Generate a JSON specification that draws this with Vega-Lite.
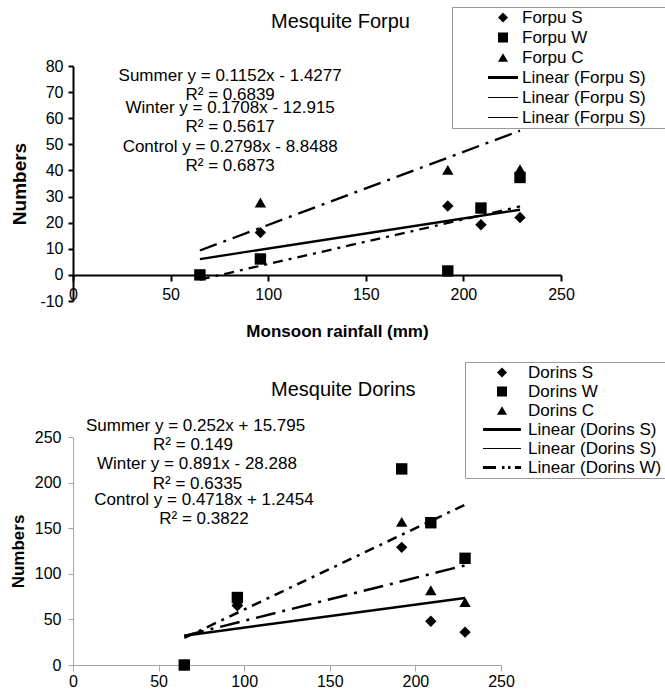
{
  "$schema": "https://vega.github.io/schema/vega-lite/v6.json",
  "padding": {"left": 9, "top": 6, "right": 0, "bottom": 0},
  "spacing": 136,
  "bounds": "flush",
  "config": {
    "font": "Liberation Sans",
    "view": {"stroke": null},
    "axis": {"grid": false, "labelFlush": false, "labelOverlap": false, "labelFont": "Liberation Sans", "titleFont": "Liberation Sans", "labelColor": "black", "titleColor": "black", "labelFontSize": 16, "titleFontWeight": "bold"},
    "legend": {"labelFont": "Liberation Sans", "labelColor": "black", "labelFontSize": 17, "labelLimit": 0, "symbolSize": 100, "symbolStrokeWidth": 1, "symbolStrokeColor": "black", "symbolFillColor": "black", "padding": 2, "strokeColor": "#999999", "fillColor": "white"},
    "title": {"font": "Liberation Sans", "fontSize": 20, "fontWeight": "normal", "color": "black"}
  },
  "datasets": {
    "forpu_pts": [
      {"series": "Forpu S", "rain": 65, "count": 0},
      {"series": "Forpu S", "rain": 96, "count": 16.2},
      {"series": "Forpu S", "rain": 192, "count": 26.4},
      {"series": "Forpu S", "rain": 209, "count": 19.2},
      {"series": "Forpu S", "rain": 229, "count": 22},
      {"series": "Forpu W", "rain": 65, "count": 0},
      {"series": "Forpu W", "rain": 96, "count": 6.1},
      {"series": "Forpu W", "rain": 192, "count": 1.5},
      {"series": "Forpu W", "rain": 209, "count": 25.6},
      {"series": "Forpu W", "rain": 229, "count": 37.3},
      {"series": "Forpu C", "rain": 65, "count": 0},
      {"series": "Forpu C", "rain": 96, "count": 27.7},
      {"series": "Forpu C", "rain": 192, "count": 40.2},
      {"series": "Forpu C", "rain": 209, "count": 68.6},
      {"series": "Forpu C", "rain": 229, "count": 40.5}
    ],
    "forpu_lines": [
      {"trend": "Summer", "rain": 65, "count": 6.06},
      {"trend": "Summer", "rain": 229, "count": 24.95},
      {"trend": "Winter", "rain": 65, "count": -1.81},
      {"trend": "Winter", "rain": 229, "count": 26.2},
      {"trend": "Control", "rain": 65, "count": 9.34},
      {"trend": "Control", "rain": 229, "count": 55.23}
    ],
    "forpu_eq": [
      {"label": "Summer y = 0.1152x - 1.4277", "rain": 80.5, "count": 76.2},
      {"label": "R² = 0.6839", "rain": 80.5, "count": 69.0},
      {"label": "Winter y = 0.1708x - 12.915", "rain": 80.5, "count": 64.0},
      {"label": "R² = 0.5617", "rain": 80.5, "count": 56.7},
      {"label": "Control y = 0.2798x - 8.8488", "rain": 80.5, "count": 49.0},
      {"label": "R² = 0.6873", "rain": 80.5, "count": 41.8}
    ],
    "dorins_pts": [
      {"series": "Dorins S", "rain": 65, "count": 0},
      {"series": "Dorins S", "rain": 96, "count": 65},
      {"series": "Dorins S", "rain": 192, "count": 129},
      {"series": "Dorins S", "rain": 209, "count": 48},
      {"series": "Dorins S", "rain": 229, "count": 36},
      {"series": "Dorins C", "rain": 65, "count": 0},
      {"series": "Dorins C", "rain": 96, "count": 70},
      {"series": "Dorins C", "rain": 192, "count": 157},
      {"series": "Dorins C", "rain": 209, "count": 82},
      {"series": "Dorins C", "rain": 229, "count": 69},
      {"series": "Dorins W", "rain": 65, "count": 0},
      {"series": "Dorins W", "rain": 96, "count": 74},
      {"series": "Dorins W", "rain": 192, "count": 215},
      {"series": "Dorins W", "rain": 209, "count": 156},
      {"series": "Dorins W", "rain": 229, "count": 117}
    ],
    "dorins_lines": [
      {"trend": "Summer", "rain": 65, "count": 32.18},
      {"trend": "Summer", "rain": 229, "count": 73.5},
      {"trend": "Winter", "rain": 65, "count": 29.63},
      {"trend": "Winter", "rain": 229, "count": 175.75},
      {"trend": "Control", "rain": 65, "count": 31.91},
      {"trend": "Control", "rain": 229, "count": 109.29}
    ],
    "dorins_eq": [
      {"label": "Summer y = 0.252x + 15.795", "rain": 71.6, "count": 262},
      {"label": "R² = 0.149", "rain": 70.1, "count": 241},
      {"label": "Winter y = 0.891x - 28.288", "rain": 72.4, "count": 220},
      {"label": "R² = 0.6335", "rain": 72.7, "count": 199},
      {"label": "Control y = 0.4718x + 1.2454", "rain": 76.5, "count": 181},
      {"label": "R² = 0.3822", "rain": 76.5, "count": 160}
    ]
  },
  "resolve": {"scale": {"shape": "independent"}},
  "vconcat": [
    {
      "width": 488,
      "height": 235,
      "title": {"text": "Mesquite Forpu", "anchor": "start", "frame": "group", "dx": 198, "offset": -25},
      "encoding": {
        "x": {"field": "rain", "type": "quantitative", "scale": {"domain": [0, 250], "nice": false, "zero": false},
          "axis": {"values": [0, 50, 100, 150, 200, 250], "offset": -26, "domainColor": "black", "domainWidth": 2, "tickColor": "black", "tickWidth": 2, "tickSize": 6, "labelPadding": 5, "labelExpr": "'' + datum.value", "title": "Monsoon rainfall (mm)", "titleFontSize": 17, "titlePadding": 21, "titleX": 264}},
        "y": {"field": "count", "type": "quantitative", "scale": {"domain": [-10, 80], "nice": false, "zero": false},
          "axis": {"values": [-10, 0, 10, 20, 30, 40, 50, 60, 70, 80], "domainColor": "black", "domainWidth": 2, "tickColor": "black", "tickWidth": 2, "tickSize": 5, "labelPadding": 5, "labelExpr": "'' + datum.value", "title": "Numbers", "titleFontSize": 19, "titlePadding": 10}}
      },
      "layer": [
        {
          "data": {"name": "forpu_lines"},
          "transform": [{"filter": "datum.trend == 'Summer'"}],
          "mark": {"type": "line", "color": "black", "strokeWidth": 2.3}
        },
        {
          "data": {"name": "forpu_lines"},
          "transform": [{"filter": "datum.trend == 'Winter'"}],
          "mark": {"type": "line", "color": "black", "strokeWidth": 2.3, "strokeDash": [10, 6, 3, 6]}
        },
        {
          "data": {"name": "forpu_lines"},
          "transform": [{"filter": "datum.trend == 'Control'"}],
          "mark": {"type": "line", "color": "black", "strokeWidth": 2.3, "strokeDash": [18, 7, 3, 7]}
        },
        {
          "data": {"name": "forpu_eq"},
          "mark": {"type": "text", "fontSize": 17, "align": "center", "baseline": "middle", "color": "black", "font": "Liberation Sans"},
          "encoding": {"text": {"field": "label", "type": "nominal"}}
        },
        {
          "data": {"name": "forpu_pts"},
          "mark": {"type": "point", "filled": true, "color": "black", "size": 130, "opacity": 1},
          "encoding": {
            "shape": {"field": "series", "type": "nominal",
              "scale": {"domain": ["Forpu S", "Forpu W", "Forpu C", "L1", "L2", "L3"], "range": ["diamond", "square", "triangle-up", "M-3,-0.3H3V0.3H-3Z", "M-3,-0.1H3V0.1H-3Z", "M-3,-0.1H3V0.1H-3Z"]},
              "legend": {"orient": "none", "legendX": 379, "legendY": -59, "rowPadding": 2, "symbolOffset": 40.5, "labelOffset": 10.5,
                "title": "\u00a0", "titleOrient": "right", "titlePadding": 24, "titleFontSize": 17,
                "labelExpr": "indexof(['L1','L2','L3'], datum.label) >= 0 ? 'Linear (Forpu S)' : datum.label",
                "encode": {"symbols": {"stroke": {"value": "black"}, "strokeWidth": {"value": 1}, "fill": {"value": "black"}}}}}
          }
        }
      ]
    },
    {
      "width": 428,
      "height": 228,
      "title": {"text": "Mesquite Dorins", "anchor": "start", "frame": "group", "dx": 198, "offset": -38},
      "encoding": {
        "x": {"field": "rain", "type": "quantitative", "scale": {"domain": [0, 250], "nice": false, "zero": false},
          "axis": {"values": [0, 50, 100, 150, 200, 250], "domainColor": "#a6a6a6", "domainWidth": 1, "tickColor": "#a6a6a6", "tickWidth": 1, "tickSize": 6, "labelPadding": 2, "title": null}},
        "y": {"field": "count", "type": "quantitative", "scale": {"domain": [0, 250], "nice": false, "zero": false},
          "axis": {"values": [0, 50, 100, 150, 200, 250], "domainColor": "#a6a6a6", "domainWidth": 1, "tickColor": "#a6a6a6", "tickWidth": 1, "tickSize": 5, "labelPadding": 7, "title": "Numbers", "titleFontSize": 17, "titlePadding": 6.5}}
      },
      "layer": [
        {
          "data": {"name": "dorins_lines"},
          "transform": [{"filter": "datum.trend == 'Summer'"}],
          "mark": {"type": "line", "color": "black", "strokeWidth": 2.5}
        },
        {
          "data": {"name": "dorins_lines"},
          "transform": [{"filter": "datum.trend == 'Winter'"}],
          "mark": {"type": "line", "color": "black", "strokeWidth": 2.5, "strokeDash": [10, 6, 3, 6]}
        },
        {
          "data": {"name": "dorins_lines"},
          "transform": [{"filter": "datum.trend == 'Control'"}],
          "mark": {"type": "line", "color": "black", "strokeWidth": 2.5, "strokeDash": [20, 7, 3, 7]}
        },
        {
          "data": {"name": "dorins_eq"},
          "mark": {"type": "text", "fontSize": 17, "align": "center", "baseline": "middle", "color": "black", "font": "Liberation Sans"},
          "encoding": {"text": {"field": "label", "type": "nominal"}}
        },
        {
          "data": {"name": "dorins_pts"},
          "mark": {"type": "point", "filled": true, "color": "black", "size": 130, "opacity": 1},
          "encoding": {
            "shape": {"field": "series", "type": "nominal",
              "scale": {"domain": ["Dorins S", "Dorins W", "Dorins C", "L1", "L2", "L3"], "range": ["diamond", "square", "triangle-up", "M-3.8,-0.3H3.8V0.3H-3.8Z", "M-3.8,-0.1H3.8V0.1H-3.8Z", "M-3.8,-0.3H-1.2V0.3H-3.8Z M0,-0.3H0.5V0.3H0Z M1.2,-0.3H1.7V0.3H1.2Z M2.6,-0.3H3.8V0.3H2.6Z"]},
              "legend": {"orient": "none", "legendX": 392, "legendY": -75, "rowPadding": 1, "symbolOffset": 26.5, "labelOffset": 17.5,
                "title": "\u00a0", "titleOrient": "right", "titlePadding": 8, "titleFontSize": 17,
                "labelExpr": "datum.label == 'L3' ? 'Linear (Dorins W)' : (indexof(['L1','L2'], datum.label) >= 0 ? 'Linear (Dorins S)' : datum.label)",
                "encode": {"symbols": {"stroke": {"value": {"expr": "datum.value == 'L2' ? '#8c8c8c' : 'black'"}}, "strokeWidth": {"value": 1}, "fill": {"value": {"expr": "datum.value == 'L2' ? '#8c8c8c' : 'black'"}}}}}}
          }
        }
      ]
    }
  ]
}
